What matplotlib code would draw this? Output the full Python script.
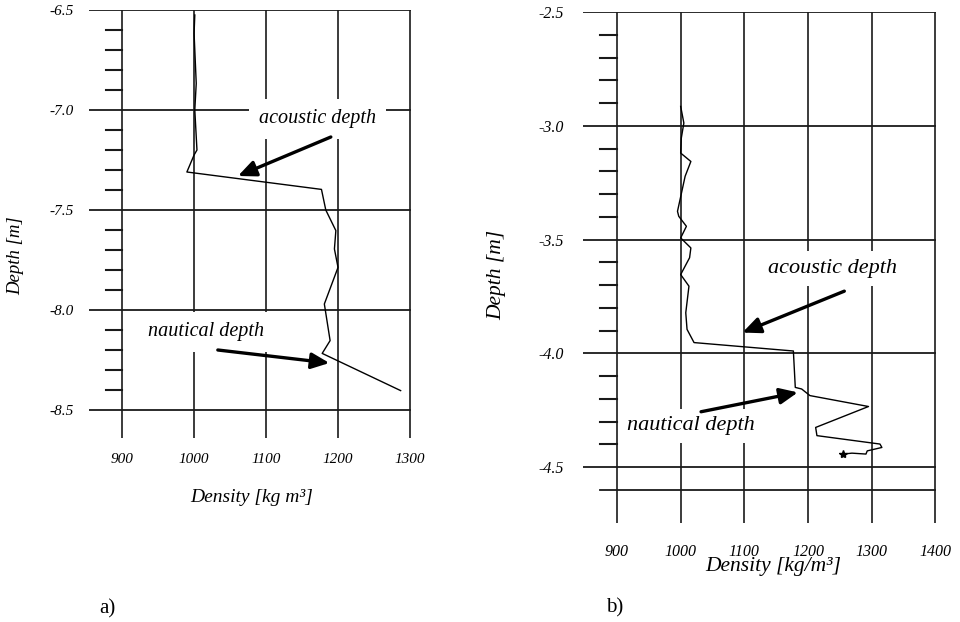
import matplotlib
matplotlib.use("Agg")
import matplotlib.pyplot as plt
import numpy as np

plt.rcParams['font.family'] = ['Liberation Serif', 'DejaVu Serif']
plt.rcParams['axes.unicode_minus'] = False

# ---- data ----
# panel a)
dens_a = [1001, 1000, 1003, 1001, 1004, 1000, 990, 1177, 1183, 1197, 1195,
          1200, 1181, 1189, 1178, 1287]
depth_a = [-6.525, -6.617, -6.867, -7.0, -7.2, -7.225, -7.31, -7.397, -7.5,
           -7.603, -7.695, -7.787, -7.97, -8.153, -8.217, -8.403]
# panel b)
dens_b = [1000, 1005, 1001, 1000, 1016, 1007, 995, 997, 1009, 1000, 1016,
          1014, 1000, 1013, 1008, 1010, 1021, 1177, 1180, 1190, 1203, 1295,
          1212, 1214, 1313, 1316, 1293, 1291, 1269, 1255]
depth_b = [-2.915, -2.988, -3.054, -3.12, -3.157, -3.222, -3.376, -3.398,
           -3.442, -3.493, -3.537, -3.58, -3.654, -3.705, -3.822, -3.895,
           -3.953, -3.99, -4.15, -4.157, -4.186, -4.234, -4.326, -4.362,
           -4.399, -4.414, -4.429, -4.443, -4.439, -4.443]

xticks_a = [900, 1000, 1100, 1200, 1300]
yticks_a = [-6.5, -7.0, -7.5, -8.0, -8.5]
xticks_b = [900, 1000, 1100, 1200, 1300, 1400]
yticks_b = [-2.5, -3.0, -3.5, -4.0, -4.5]

W, H = 960, 622
def px(x, y):
    return x / W, 1 - y / H

fig = plt.figure(figsize=(9.6, 6.22), dpi=100)

GC = '#1a1a1a'


def frame(ax, xlim, ylim, xt, yt, minor_x0, ypad, xpad, fs):
    ax.set_xlim(*xlim)
    ax.set_ylim(*ylim)
    for s in ax.spines.values():
        s.set_visible(False)
    # horizontal grid lines at major depths
    for y in yt:
        ax.plot([xlim[0], xt[-1]], [y, y], color=GC, lw=1.3, zorder=1)
    # vertical grid lines at density ticks
    for x in xt:
        ax.plot([x, x], [ylim[0], yt[0]], color=GC, lw=1.2, zorder=1)
    # short minor dashes every 0.1 m (kept above the label boxes)
    minors = np.round(np.arange(yt[0], yt[-1] - 0.001, -0.1), 2)
    for y in minors:
        if y not in yt:
            ax.plot([minor_x0, xt[0]], [y, y], color=GC, lw=1.5, zorder=3.5)
    ax.set_xticks(xt)
    ax.set_xticklabels([str(v) for v in xt], style='italic', fontsize=fs)
    ax.set_yticks(yt)
    ax.set_yticklabels(['%.1f' % v for v in yt], style='italic', fontsize=fs)
    ax.tick_params(axis='y', length=0, pad=ypad)
    ax.tick_params(axis='x', length=0, pad=xpad)


def label(ax, txt, xy, fs, pad):
    ax.text(xy[0], xy[1], txt, style='italic', fontsize=fs, ha='center',
            va='center', zorder=3,
            bbox=dict(boxstyle='square,pad=%s' % pad, fc='white', ec='none'))


def arrow(ax, tail, head):
    ax.annotate('', xy=head, xytext=tail, zorder=4,
                arrowprops=dict(arrowstyle='-|>,head_length=0.9,head_width=0.4',
                                lw=2.4, color='black', shrinkA=0, shrinkB=0,
                                mutation_scale=12))


# ---- panel a ----
l, b = px(89, 438)
ax1 = fig.add_axes([l, b, 322 / W, 428 / H])
frame(ax1, (854, 1301.4), (-8.64, -6.5), xticks_a, yticks_a, 878, 11, 11, 11)
label(ax1, 'acoustic depth', (1171, -7.045), 14.5, 0.5)
label(ax1, 'nautical depth', (1017, -8.11), 14.5, 0.5)
ax1.plot(dens_a, depth_a, color='black', lw=1.0, zorder=2)
arrow(ax1, (1190, -7.135), (1061, -7.33))
arrow(ax1, (1033, -8.2), (1188, -8.265))

# ---- panel b ----
l, b = px(583, 523)
ax2 = fig.add_axes([l, b, 353 / W, 511 / H])
frame(ax2, (846.6, 1401), (-4.746, -2.5), xticks_b, yticks_b, 873, 14, 15, 11.5)
ax2.plot([873, 1400], [-4.6, -4.6], color=GC, lw=1.3, zorder=1)
label(ax2, 'acoustic depth', (1238, -3.627), 16, 0.35)
label(ax2, 'nautical depth', (1016, -4.319), 16, 0.35)
ax2.plot(dens_b, depth_b, color='black', lw=1.0, zorder=2)
ax2.plot(dens_b[-1:], depth_b[-1:], marker='*', ms=6, color='black', zorder=2)
arrow(ax2, (1257, -3.727), (1097, -3.909))
arrow(ax2, (1032, -4.257), (1184, -4.172))

# ---- axis titles and panel letters ----
fig.text(*px(252, 497), 'Density [kg m³]', style='italic', fontsize=14,
         ha='center', va='center')
fig.text(*px(773, 567), 'Density [kg/m³]', style='italic', fontsize=15.5,
         ha='center', va='center')
fig.text(*px(16, 256), 'Depth [m]', style='italic', fontsize=13.5,
         rotation=90, ha='center', va='center')
fig.text(*px(497, 275), 'Depth [m]', style='italic', fontsize=15.5,
         rotation=90, ha='center', va='center')
fig.text(*px(107, 609), 'a)', fontsize=15, ha='center', va='center')
fig.text(*px(615, 608), 'b)', fontsize=15, ha='center', va='center')

fig.savefig('out.png', dpi=100)
